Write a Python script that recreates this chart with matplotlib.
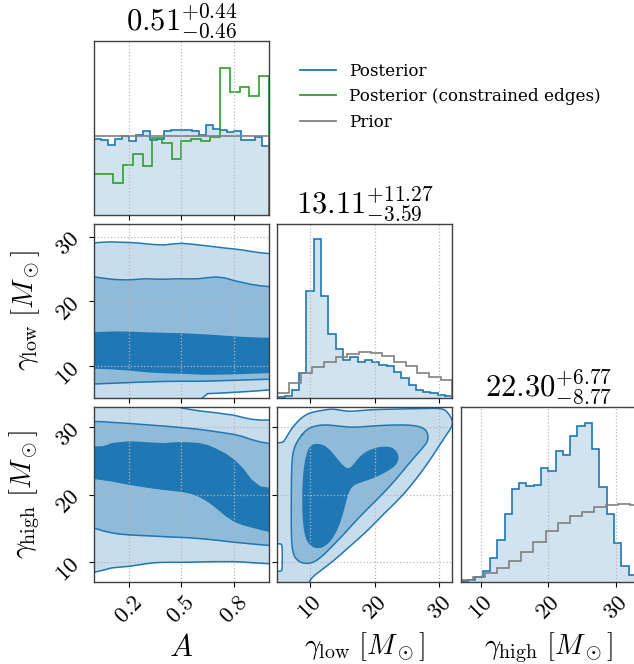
import numpy as np
import matplotlib
matplotlib.use('Agg')
import matplotlib.pyplot as plt
from matplotlib.lines import Line2D
from matplotlib.ticker import FuncFormatter

plt.rcParams['mathtext.fontset'] = 'cm'
plt.rcParams['font.family'] = ['DejaVu Serif']

BLUE = '#1f77b4'
GREEN = '#2ca02c'
GREY = '#808080'
LIGHT = '#c7ddec'
MID = '#8fbbd9'

# ---- 1D marginals (densities) ----
a_post = [0.958, 0.945, 0.890, 0.958, 1.000, 0.932, 1.009, 1.069, 0.945, 0.966,
          1.064, 1.073, 1.081, 1.073, 1.064, 1.009, 1.145, 1.094, 1.073, 1.051,
          1.060, 0.945, 0.945, 0.983, 0.868]
a_constrained = [0.52, 0.52, 0.40, 0.626, 0.775, 0.617, 0.975, 0.91, 0.71, 0.932,
                 0.958, 0.932, 0.987, 1.869, 1.562, 1.626, 1.507, 1.767]
a_prior = [1.0]

low_post = [0.001, 0.002, 0.009, 0.026, 0.111, 0.164, 0.106, 0.066, 0.051, 0.040,
            0.043, 0.037, 0.040, 0.037, 0.034, 0.033, 0.027, 0.021, 0.014, 0.009,
            0.007, 0.005, 0.003, 0.002]
low_prior = [0.005, 0.016, 0.026, 0.032, 0.038, 0.043, 0.046, 0.048, 0.047, 0.044,
             0.037, 0.033, 0.026, 0.022, 0.019]

high_post = [0.0005, 0.0009, 0.0022, 0.0055, 0.0121, 0.0212, 0.0340, 0.0465, 0.0499, 0.0482,
             0.0487, 0.0571, 0.0559, 0.0657, 0.0638, 0.0734, 0.0785, 0.0798, 0.0667, 0.0479,
             0.0339, 0.0193, 0.0081, 0.0034]
high_prior = [0.0009, 0.0025, 0.0045, 0.0071, 0.0106, 0.0151, 0.0202, 0.0257, 0.0297, 0.0331,
              0.0353, 0.0378, 0.0387, 0.0390, 0.0387]

titles = [r'$0.51^{+0.44}_{-0.46}$', r'$13.11^{+11.27}_{-3.59}$', r'$22.30^{+6.77}_{-8.77}$']
labels = [r'$A$', r'$\gamma_{\rm low}\ [M_\odot]$', r'$\gamma_{\rm high}\ [M_\odot]$']

a_range = (0.0, 1.0)
low_range = (5.0, 32.0)
high_range = (7.0, 33.0)

# ---- 2D credible regions vs A (band edges sampled along A) ----
a_grid = np.linspace(0, 1, 21)
low_outer_hi = [29.02, 29.12, 29.17, 29.12, 29.08, 29.0, 28.87, 28.75, 28.7, 28.85, 28.95,
                28.85, 28.7, 28.55, 28.38, 28.22, 28.08, 27.92, 27.7, 27.5, 27.37]
low_mid_hi = [23.76, 23.58, 23.4, 23.32, 23.3, 23.4, 23.48, 23.42, 23.4, 23.45, 23.47,
              23.45, 23.48, 23.65, 23.75, 23.6, 23.2, 22.9, 22.6, 22.4, 22.27]
low_in_hi = [15.31, 15.36, 15.4, 15.41, 15.38, 15.33, 15.28, 15.24, 15.2, 15.17, 15.13,
             15.08, 15.0, 14.93, 14.85, 14.75, 14.65, 14.58, 14.52, 14.46, 14.43]
low_in_lo = [9.64, 9.6, 9.55, 9.45, 9.35, 9.22, 9.1, 9.0, 8.95, 8.9, 8.87,
             8.8, 8.74, 8.71, 8.72, 8.75, 8.78, 8.82, 8.86, 8.92, 8.97]
low_mid_lo = [7.22, 7.27, 7.32, 7.38, 7.43, 7.48, 7.53, 7.57, 7.6, 7.62, 7.63,
              7.63, 7.63, 7.66, 7.7, 7.74, 7.78, 7.83, 7.87, 7.91, 7.94]
low_outer_lo = [4.6, 4.6, 4.6, 4.6, 4.6, 4.6, 4.6, 4.6, 4.6, 4.6, 4.6,
                4.6, 4.6, 5.72, 5.78, 5.85, 5.92, 6.0, 6.08, 6.18, 6.29]

high_outer_hi = [33.6, 33.6, 33.6, 33.6, 33.6, 33.6, 33.6, 33.6, 33.6, 33.6, 32.92,
                 32.68, 32.48, 32.33, 32.18, 32.0, 31.83, 31.5, 31.22, 31.1, 31.09]
high_mid_hi = [30.89, 30.85, 30.76, 30.68, 30.6, 30.5, 30.4, 30.3, 30.2, 30.1, 29.97,
               29.85, 29.72, 29.55, 29.36, 29.17, 28.96, 28.65, 28.2, 27.85, 27.62]
high_in_hi = [27.23, 27.3, 27.75, 27.9, 28.0, 27.95, 27.87, 27.8, 27.75, 27.85, 27.9,
              27.85, 27.75, 27.45, 26.88, 26.2, 25.3, 24.0, 22.3, 21.29, 21.09]
high_in_lo = [22.38, 22.2, 22.0, 21.75, 21.5, 21.3, 21.09, 20.9, 20.75, 20.6, 20.45,
              20.2, 19.7, 18.95, 17.95, 16.85, 16.0, 15.5, 15.15, 14.8, 14.5]
high_mid_lo = [15.0, 14.6, 14.3, 14.1, 14.0, 13.92, 13.86, 13.8, 13.73, 13.66, 13.62,
               13.55, 13.45, 13.33, 13.2, 13.05, 12.9, 12.78, 12.65, 12.53, 12.43]
high_outer_lo = [8.42, 8.72, 9.06, 9.2, 9.3, 9.5, 9.7, 9.85, 9.9, 9.9, 9.9,
                 9.92, 9.95, 9.98, 10.0, 10.0, 10.0, 9.95, 9.85, 9.77, 9.7]

# ---- 2D credible regions gamma_low vs gamma_high (closed outlines) ----
joint_outer_low = [4.0, 5.87, 6.24, 7.0, 8.04, 9.07, 10.1, 11.6, 13.4, 14.7, 16.0, 17.8, 19.9,
                   25.0, 29.2, 30.7, 31.5, 32.05, 32.0, 31.3, 30.4, 28.6, 26.5, 24.2, 21.3,
                   18.8, 16.2, 13.6, 11.5, 10.3, 9.9, 9.6, 4.0, 4.0, 5.55, 5.77, 5.77, 5.55, 4.0]
joint_outer_high = [27.71, 27.71, 28.3, 29.55, 30.8, 31.7, 32.2, 32.5, 32.77, 32.57, 32.38, 32.5, 32.67,
                    32.77, 32.87, 32.77, 32.0, 31.0, 30.2, 29.2, 27.9, 25.2, 22.4, 19.7, 17.0,
                    14.5, 12.3, 10.05, 8.56, 7.6, 6.9, 6.0, 6.0, 8.56, 8.56, 8.8, 12.45, 12.67, 12.67]
joint_mid_low = [8.3, 9.59, 11.13, 12.68, 14.74, 16.8, 18.87, 20.93, 24.0, 26.08, 27.37, 28.14,
                 28.3, 27.9, 25.98, 23.9, 21.86, 19.8, 17.73, 15.67, 13.87, 12.06, 10.52, 8.97,
                 7.8, 7.3, 7.15, 7.15, 7.2, 7.45]
joint_mid_high = [28.32, 29.8, 30.3, 30.4, 30.15, 30.0, 30.15, 30.3, 30.4, 30.3, 30.0, 29.4,
                  28.3, 27.45, 25.4, 22.92, 20.7, 18.7, 16.73, 14.5, 12.7, 10.9, 9.8, 9.7,
                  10.4, 11.7, 14.26, 19.2, 24.16, 26.7]
joint_in_low = [10.9, 12.06, 13.09, 14.12, 15.15, 15.98, 16.6, 17.4, 18.4, 20.0, 21.6, 23.0,
                23.8, 23.5, 22.0, 19.9, 17.73, 16.6, 15.93, 15.41, 14.74, 13.87, 12.84, 11.55,
                10.2, 9.25, 8.85, 8.85, 9.1, 9.6, 10.1]
joint_in_high = [27.6, 27.45, 26.7, 25.5, 24.3, 23.8, 24.3, 25.3, 26.25, 26.95, 27.2, 26.95,
                 25.8, 24.5, 23.45, 22.45, 21.75, 21.3, 20.1, 18.1, 15.8, 13.95, 12.6, 11.9,
                 12.2, 13.6, 16.73, 21.19, 24.3, 26.4, 27.3]


def smooth_closed(x, y, n_iter=3):
    # Chaikin corner cutting on a closed outline
    p = np.column_stack([x, y]).astype(float)
    for _ in range(n_iter):
        q = np.roll(p, -1, axis=0)
        p = np.column_stack([0.75 * p + 0.25 * q, 0.25 * p + 0.75 * q]).reshape(-1, 2)
    p = np.vstack([p, p[:1]])
    return p[:, 0], p[:, 1]


W, H = 634, 664
fig = plt.figure(figsize=(W / 100, H / 100), dpi=100)

cols = [(94.0, 268.7), (277.3, 452.3), (460.8, 635.8)]
rows = [(40.7, 214.7), (223.6, 398.3), (407.3, 581.8)]


def add_panel(r, c):
    x0, x1 = cols[c]
    y0, y1 = rows[r]
    return fig.add_axes([x0 / W, 1 - y1 / H, (x1 - x0) / W, (y1 - y0) / H])


fmt = FuncFormatter(lambda v, p: f'${v:g}$')
a_ticks = [0.2, 0.5, 0.8]
g_ticks = [10, 20, 30]
LABEL_FS = 20.5
XLAB_Y = -0.28


def style(ax, grid_axis='both'):
    for s in ax.spines.values():
        s.set_color('0.25')
        s.set_linewidth(1.0)
    ax.tick_params(direction='out', length=3.5, width=0.8, labelsize=16.5,
                   labelrotation=45, colors='black')
    ax.grid(True, axis=grid_axis, ls=':', color='0.72', lw=0.9)


def hist_panel(ax, vals, edges, rng, ticks, title, top):
    ax.stairs(vals, edges, fill=True, color=BLUE, alpha=0.2, lw=0)
    ax.stairs(vals, edges, color=BLUE, lw=1.2)
    ax.set_xlim(*rng)
    ax.set_ylim(0, top)
    ax.set_yticks([])
    ax.set_xticks(ticks)
    ax.set_title(title, fontsize=22)
    style(ax, 'x')


# diagonal: A
ax11 = add_panel(0, 0)
hist_panel(ax11, a_post, np.linspace(0, 1, len(a_post) + 1), a_range, a_ticks, titles[0], 2.21)
ax11.stairs(a_constrained, np.linspace(0, 1, len(a_constrained) + 1), color=GREEN, lw=1.2)
ax11.stairs(a_prior, [0, 1], color=GREY, lw=1.2)
ax11.set_xticklabels([])

# diagonal: gamma_low
ax22 = add_panel(1, 1)
hist_panel(ax22, low_post, np.linspace(*low_range, len(low_post) + 1), low_range, g_ticks,
           titles[1], 1.1 * max(low_post))
ax22.stairs(low_prior, np.linspace(*low_range, len(low_prior) + 1), color=GREY, lw=1.2)
ax22.set_xticklabels([])

# diagonal: gamma_high
ax33 = add_panel(2, 2)
hist_panel(ax33, high_post, np.linspace(*high_range, len(high_post) + 1), high_range, g_ticks,
           titles[2], 1.1 * max(high_post))
ax33.stairs(high_prior, 7.0 + 1.8 * np.arange(len(high_prior) + 1), color=GREY, lw=1.2)
ax33.xaxis.set_major_formatter(fmt)
ax33.set_xlabel(labels[2], fontsize=LABEL_FS)
ax33.xaxis.set_label_coords(0.5, XLAB_Y)


def band_panel(ax, outer, mid, inner, yrng):
    ax.fill_between(a_grid, outer[0], outer[1], color=LIGHT, lw=0)
    ax.fill_between(a_grid, mid[0], mid[1], color=MID, lw=0)
    ax.fill_between(a_grid, inner[0], inner[1], color=BLUE, lw=0)
    for curve in (outer[0], outer[1], mid[0], mid[1]):
        ax.plot(a_grid, curve, color=BLUE, lw=1.1)
    ax.set_xlim(*a_range)
    ax.set_ylim(*yrng)
    ax.set_xticks(a_ticks)
    ax.set_yticks(g_ticks)
    ax.yaxis.set_major_formatter(fmt)
    style(ax)


ax21 = add_panel(1, 0)
band_panel(ax21, (low_outer_lo, low_outer_hi), (low_mid_lo, low_mid_hi),
           (low_in_lo, low_in_hi), low_range)
ax21.set_xticklabels([])
ax21.set_ylabel(labels[1], fontsize=LABEL_FS)
ax21.yaxis.set_label_coords(-0.3, 0.5)

ax31 = add_panel(2, 0)
band_panel(ax31, (high_outer_lo, high_outer_hi), (high_mid_lo, high_mid_hi),
           (high_in_lo, high_in_hi), high_range)
ax31.xaxis.set_major_formatter(fmt)
ax31.set_xlabel(labels[0], fontsize=LABEL_FS + 1.5)
ax31.xaxis.set_label_coords(0.5, XLAB_Y - 0.01)
ax31.set_ylabel(labels[2], fontsize=LABEL_FS)
ax31.yaxis.set_label_coords(-0.3, 0.5)

# gamma_low vs gamma_high
ax32 = add_panel(2, 1)
for xs, ys, col, edge in ((joint_outer_low, joint_outer_high, LIGHT, True),
                          (joint_mid_low, joint_mid_high, MID, True),
                          (joint_in_low, joint_in_high, BLUE, False)):
    sx, sy = smooth_closed(xs, ys)
    ax32.fill(sx, sy, color=col, lw=0)
    if edge:
        ax32.plot(sx, sy, color=BLUE, lw=1.1)
ax32.set_xlim(*low_range)
ax32.set_ylim(*high_range)
ax32.set_xticks(g_ticks)
ax32.set_yticks(g_ticks)
ax32.xaxis.set_major_formatter(fmt)
ax32.set_yticklabels([])
ax32.set_xlabel(labels[1], fontsize=LABEL_FS)
ax32.xaxis.set_label_coords(0.5, XLAB_Y)
style(ax32)

handles = [Line2D([], [], color=BLUE, lw=1.3),
           Line2D([], [], color=GREEN, lw=1.3),
           Line2D([], [], color=GREY, lw=1.3)]
fig.legend(handles, ['Posterior', 'Posterior (constrained edges)', 'Prior'],
           loc='upper left', bbox_to_anchor=(293.6 / W, 1 - 56 / H), frameon=False,
           prop={'family': 'DejaVu Serif', 'size': 12.1}, handlelength=2.1,
           handletextpad=0.8, labelspacing=0.5, borderaxespad=0)

fig.savefig('out.png', dpi=100)
